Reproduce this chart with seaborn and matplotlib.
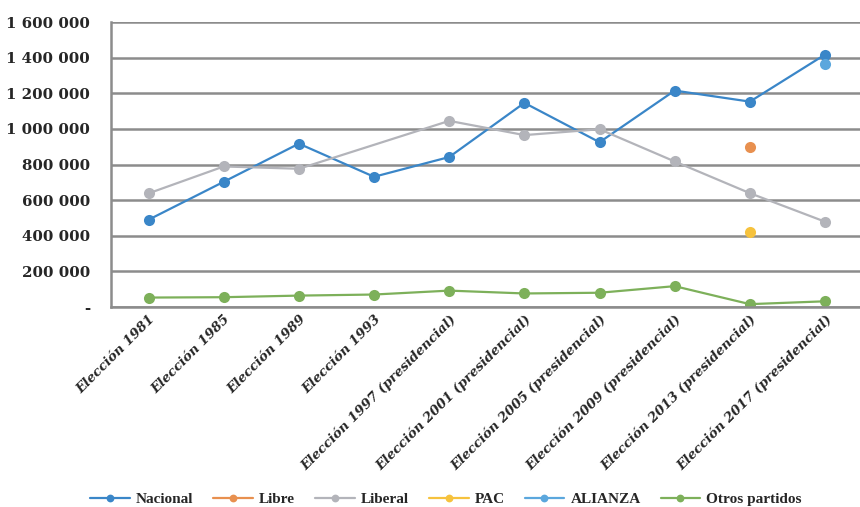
import numpy as np
import pandas as pd
import matplotlib
matplotlib.use('Agg')
import matplotlib.pyplot as plt
import seaborn as sns
from matplotlib.ticker import FuncFormatter

nan = np.nan

elecciones = [
    'Elección 1981', 'Elección 1985', 'Elección 1989', 'Elección 1993',
    'Elección 1997 (presidencial)', 'Elección 2001 (presidencial)',
    'Elección 2005 (presidencial)', 'Elección 2009 (presidencial)',
    'Elección 2013 (presidencial)', 'Elección 2017 (presidencial)',
]

nacional = [490000, 703000, 917000, 731000, 842000, 1146000, 925000, 1215000, 1153000, 1417000]
libre = [nan, nan, nan, nan, nan, nan, nan, nan, 896000, nan]
liberal = [638000, 789000, 776000, nan, 1045000, 965000, 998000, 817000, 639000, 479000]
pac = [nan, nan, nan, nan, nan, nan, nan, nan, 423000, nan]
alianza = [nan, nan, nan, nan, nan, nan, nan, nan, nan, 1362000]
otros = [53000, 55000, 64000, 70000, 92000, 76000, 80000, 117000, 16000, 32000]

series = {
    'Nacional': nacional,
    'Libre': libre,
    'Liberal': liberal,
    'PAC': pac,
    'ALIANZA': alianza,
    'Otros partidos': otros,
}
colores = {
    'Nacional': '#3A86C8',
    'Libre': '#E8904F',
    'Liberal': '#B3B4BA',
    'PAC': '#F6C23D',
    'ALIANZA': '#5BA7DD',
    'Otros partidos': '#7DB05A',
}

sns.set_style('white')

fig = plt.figure(figsize=(8.6, 5.07), dpi=100)
ax = fig.add_axes([111 / 860, 1 - 307 / 507, (862.6 - 111) / 860, (307 - 22) / 507])

x = np.arange(len(elecciones))
for nombre, valores in series.items():
    sns.lineplot(x=x, y=valores, ax=ax, color=colores[nombre], marker='o',
                 markersize=8, markeredgewidth=0, linewidth=1.6, label=nombre)

ax.set_xlim(-0.5, len(elecciones) - 0.5)
ax.set_ylim(0, 1600000)
ax.set_yticks(np.arange(0, 1600001, 200000))
ax.yaxis.set_major_formatter(FuncFormatter(
    lambda v, p: '-' if v == 0 else f'{int(v):,}'.replace(',', ' ')))
ax.set_xticks(x)
ax.set_xticklabels(elecciones, rotation=45, ha='right', rotation_mode='anchor',
                   family='DejaVu Serif', fontsize=9.5, fontweight='bold', style='italic')
for lab in ax.get_yticklabels():
    lab.set_family('DejaVu Serif')
    lab.set_fontsize(10.8)
    lab.set_fontweight('bold')

ax.tick_params(axis='both', length=0)
ax.tick_params(axis='y', pad=15)
ax.tick_params(axis='x', pad=4)
ax.grid(axis='y', color='#8C8C8C', linewidth=1.8)
ax.set_axisbelow(True)
for side in ['top', 'right']:
    ax.spines[side].set_visible(False)
for side in ['left', 'bottom']:
    ax.spines[side].set_color('#8C8C8C')
    ax.spines[side].set_linewidth(1.8)

handles, labels = ax.get_legend_handles_labels()
ax.legend(handles, labels, loc='center', bbox_to_anchor=(446 / 860, 1 - 499 / 507),
          bbox_transform=fig.transFigure, ncol=6, frameon=False,
          prop={'family': 'Liberation Serif', 'weight': 'bold', 'size': 11},
          handlelength=2.6, handletextpad=0.4, columnspacing=1.3, markerscale=0.7)

fig.savefig('out.png', dpi=100)
